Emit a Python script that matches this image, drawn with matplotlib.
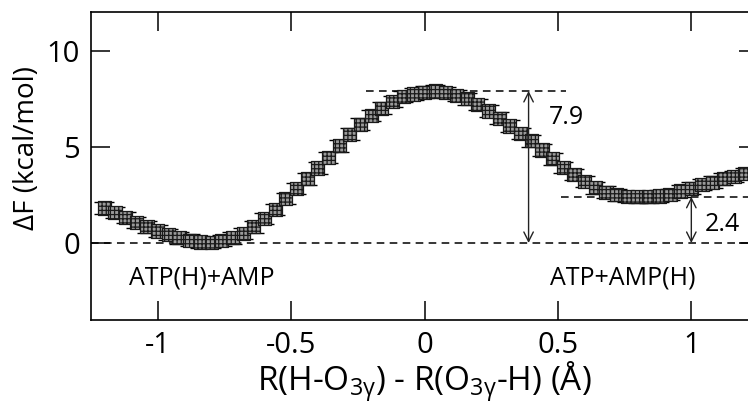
import numpy as np
import matplotlib
matplotlib.use("Agg")
import matplotlib.pyplot as plt

plt.rcParams['font.family'] = ['Open Sans', 'DejaVu Sans']
plt.rcParams['mathtext.fontset'] = 'custom'
plt.rcParams['mathtext.rm'] = 'Open Sans'
plt.rcParams['axes.unicode_minus'] = False
plt.rcParams['hatch.linewidth'] = 0.9

# reaction coordinate (Å) and free energy profile (kcal/mol)
coord = np.linspace(-1.2, 1.2, 61)
free_energy = [
    1.82, 1.58, 1.32, 1.07, 0.84, 0.62, 0.43, 0.27, 0.15, 0.05,
    0.03, 0.12, 0.27, 0.50, 0.84, 1.27, 1.74, 2.30, 2.82, 3.33,
    3.90, 4.45, 5.05, 5.65, 6.17, 6.63, 7.00, 7.35, 7.60, 7.74,
    7.84, 7.90, 7.82, 7.66, 7.49, 7.20, 6.86, 6.48, 6.08, 5.69,
    5.31, 4.83, 4.37, 3.93, 3.56, 3.20, 2.87, 2.64, 2.50, 2.42,
    2.40, 2.40, 2.44, 2.53, 2.70, 2.85, 3.03, 3.16, 3.33, 3.45,
    3.62,
]
error = 0.3

barrier = 7.9
reaction_energy = 2.4
xticks = [-1, -0.5, 0, 0.5, 1]
xticklabels = ['-1', '-0.5', '0', '0.5', '1']
yticks = [0, 5, 10]

fig = plt.figure(figsize=(7.48, 4.15), dpi=100)
ax = fig.add_axes([0.1217, 0.229, 0.8917, 0.742])

# error bars then hatched square markers
ax.errorbar(coord, free_energy, yerr=error, fmt='none', ecolor='black',
            elinewidth=0.8, capsize=7, capthick=1.0, zorder=2)
ax.scatter(coord, free_energy, marker='s', s=90, facecolor='#9a9a9a',
           edgecolor='#1a1a1a', linewidth=0.9, hatch='++++', zorder=3)

# reference lines
dash = (0, (5, 3.5))
ax.axhline(0, color='black', lw=1.1, linestyle=dash, zorder=1)
ax.plot([-0.22, 0.53], [barrier, barrier], color='black', lw=1.1, linestyle=dash, zorder=1)
ax.plot([0.51, 1.3], [reaction_energy, reaction_energy], color='black', lw=1.1,
        linestyle=dash, zorder=1)

arrow = dict(arrowstyle='<->', lw=1.0, color='#222222', mutation_scale=17,
             shrinkA=0, shrinkB=0)
ax.annotate('', xy=(0.39, barrier), xytext=(0.39, 0), arrowprops=arrow, zorder=4)
ax.annotate('', xy=(1.0, reaction_energy), xytext=(1.0, 0), arrowprops=arrow, zorder=4)

ax.text(0.465, 6.5, '7.9', fontsize=18, va='center', ha='left')
ax.text(1.05, 0.95, '2.4', fontsize=18, va='center', ha='left')
ax.text(-0.835, -1.8, 'ATP(H)+AMP', fontsize=18, va='center', ha='center')
ax.text(0.742, -1.8, 'ATP+AMP(H)', fontsize=18, va='center', ha='center')

ax.set_xlim(-1.25, 1.25)
ax.set_ylim(-4, 12)
ax.set_xticks(xticks)
ax.set_xticklabels(xticklabels)
ax.set_yticks(yticks)
ax.tick_params(direction='in', length=14, width=1.1, labelsize=21,
               top=True, right=True, pad=8)
for sp in ax.spines.values():
    sp.set_linewidth(1.2)

ax.set_xlabel(r'R(H-O$_\mathregular{3γ}$) - R(O$_\mathregular{3γ}$-H) (Å)', fontsize=24, labelpad=0)
ax.set_ylabel('ΔF (kcal/mol)', fontsize=20)
ax.yaxis.set_label_coords(-0.075, 0.558)

fig.savefig('out.png', dpi=100)
